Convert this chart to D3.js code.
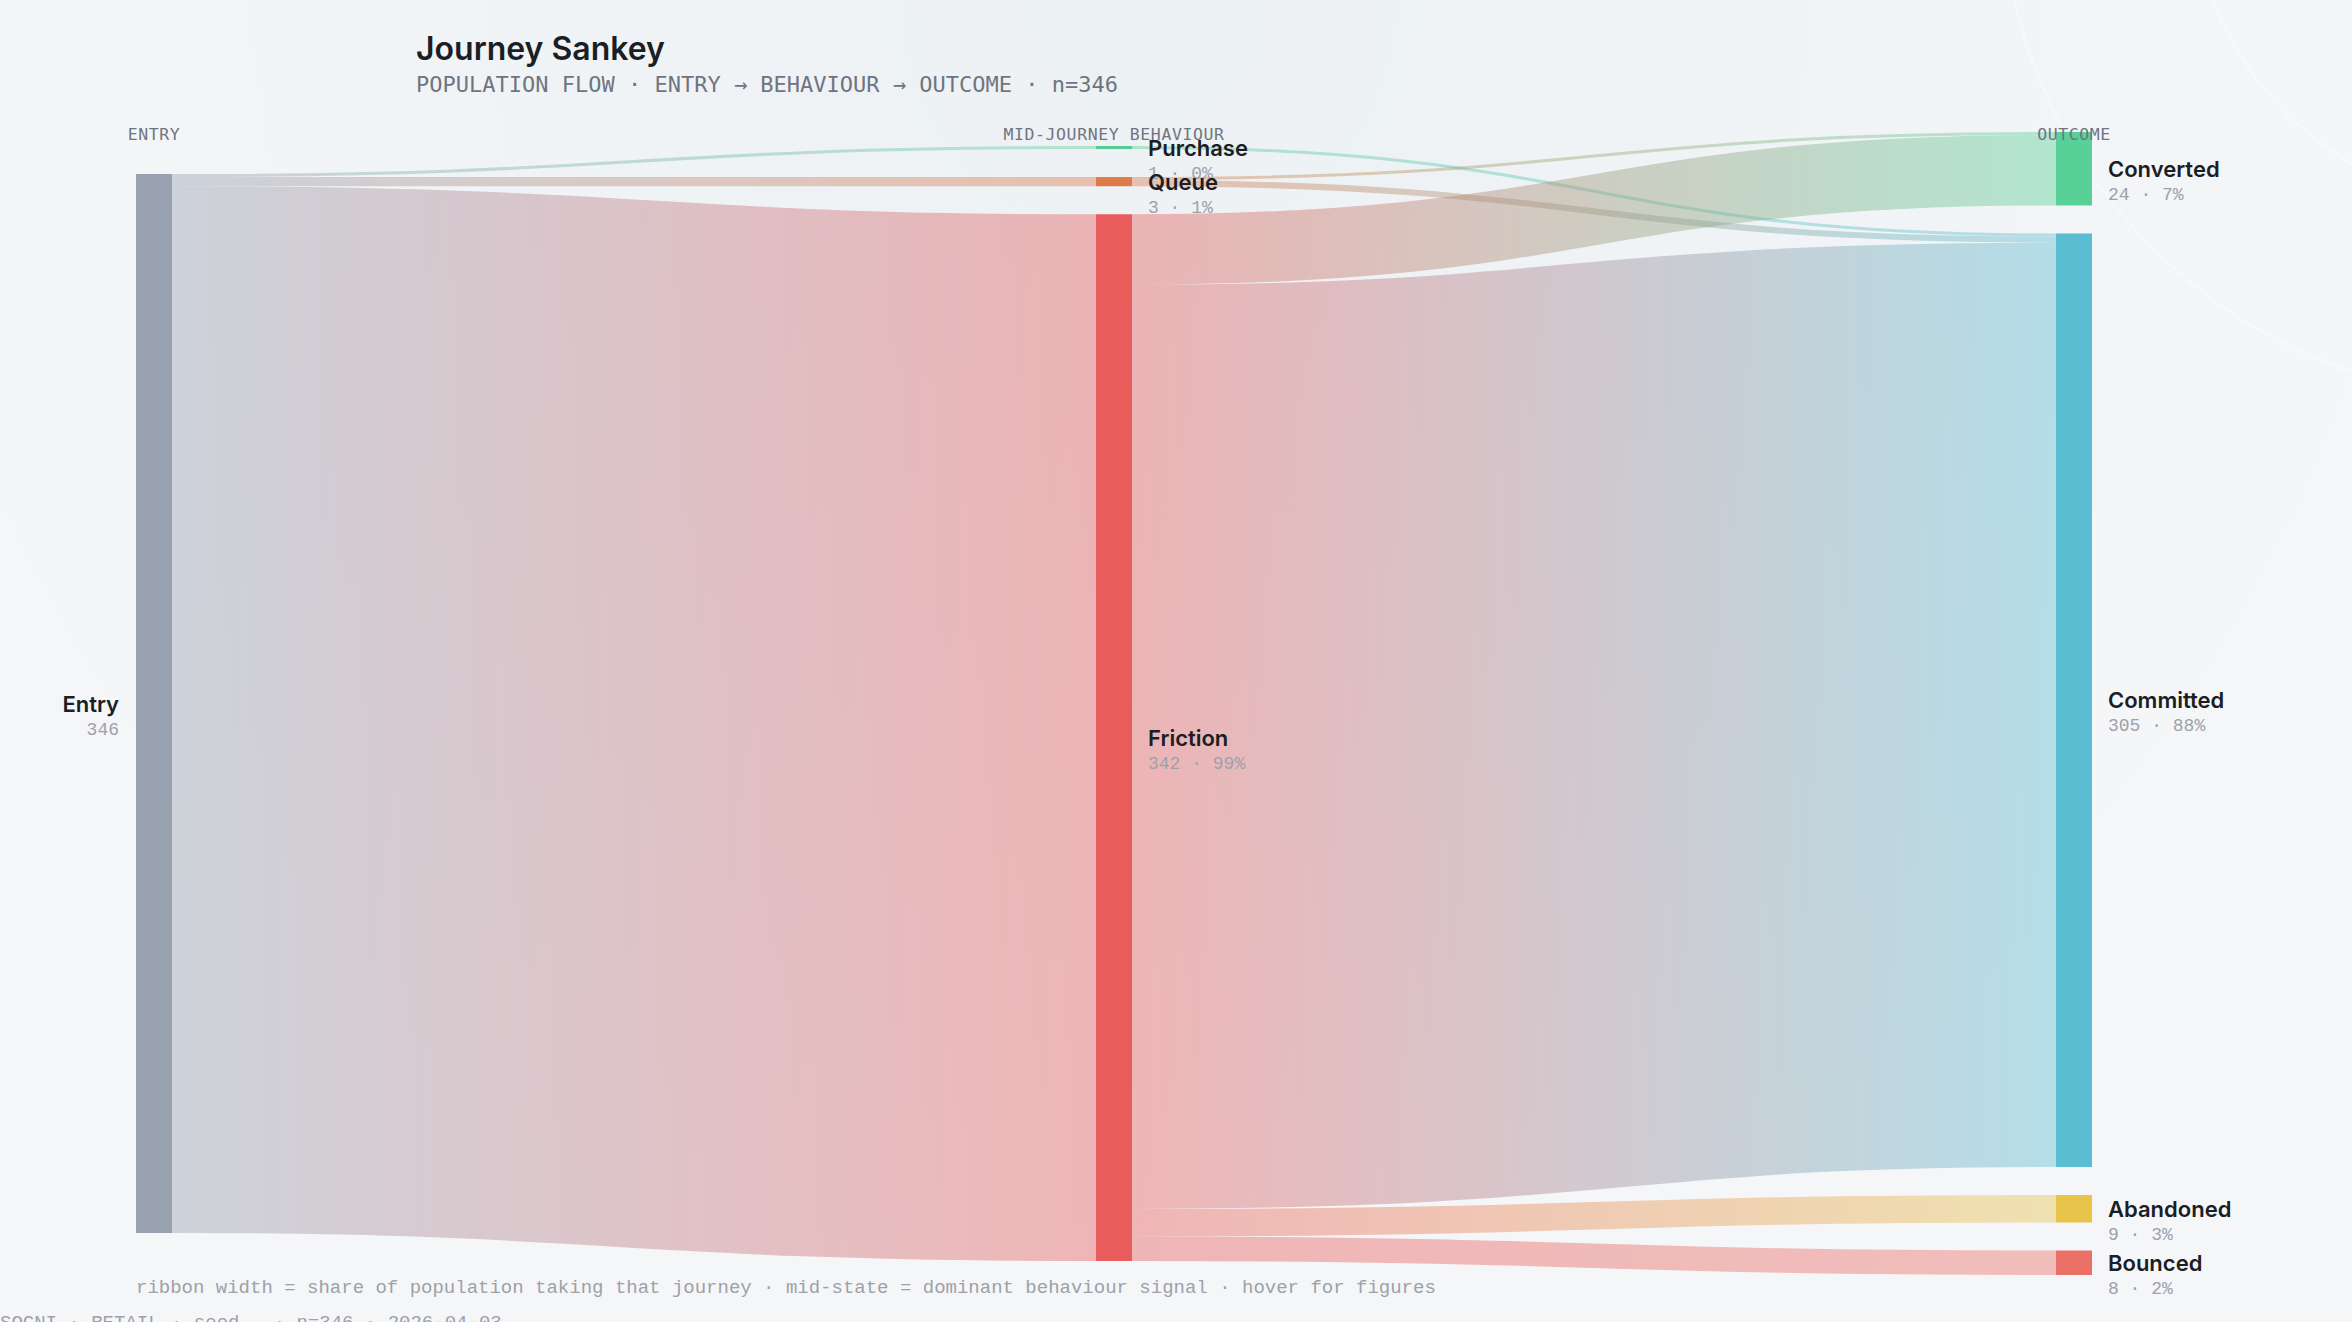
<!doctype html>
<html>
  <head>
    <meta charset="utf-8">
    <title>Journey Sankey</title>
    <script src="https://cdnjs.cloudflare.com/ajax/libs/d3/7.8.5/d3.min.js"></script>
    <style>
      html, body { margin: 0; padding: 0; background: #f4f6f8; overflow: hidden; }
      .name { font-family: Inter, "Noto Sans", sans-serif; font-weight: 600; font-size: 22px; fill: #1b1e24; }
      .sub { font-family: "Liberation Mono", "DejaVu Sans Mono", monospace; font-size: 18px; fill: #9ca1aa; }
      .head { font-family: "DejaVu Sans Mono", monospace; font-size: 16.5px; fill: #6f7580; letter-spacing: 0.6px; }
    </style>
  </head>
  <body>
    <div id="chart"></div>

    <script>

      // data: nodes, flows, headers
      const nodeNames = ["Entry", "Purchase", "Queue", "Friction", "Converted", "Committed", "Abandoned", "Bounced"];
      const linkSources = ["Entry", "Entry", "Entry", "Purchase", "Queue", "Queue", "Friction", "Friction", "Friction", "Friction"];
      const linkTargets = ["Purchase", "Queue", "Friction", "Committed", "Converted", "Committed", "Converted", "Committed", "Abandoned", "Bounced"];
      const linkValues = [1, 3, 342, 1, 1, 2, 23, 302, 9, 8];
      const columnHeaders = ["ENTRY", "MID-JOURNEY BEHAVIOUR", "OUTCOME"];
      const total = 346;

      // colours
      const palette = {
        Entry: "#97a1b0", Purchase: "#58cd93", Queue: "#df7a49", Friction: "#e85c5c",
        Converted: "#57d197", Committed: "#5bbdd2", Abandoned: "#e8c44a", Bounced: "#eb7068"
      };

      const W = 2352, H = 1322;
      const nodeWidth = 36, py = 28;
      const ext = {x0: 136, x1: 2092, y0: 132, y1: 1275};

      // build graph
      const nodes = nodeNames.map((name, i) => ({name, index: i, sourceLinks: [], targetLinks: []}));
      const byName = new Map(nodes.map(n => [n.name, n]));
      const links = linkValues.map((value, i) => ({
        index: i, value,
        source: byName.get(linkSources[i]),
        target: byName.get(linkTargets[i])
      }));
      links.forEach(l => { l.source.sourceLinks.push(l); l.target.targetLinks.push(l); });
      nodes.forEach(n => {
        n.value = Math.max(d3.sum(n.sourceLinks, l => l.value), d3.sum(n.targetLinks, l => l.value));
      });

      // depth (justify: sinks go to the last column)
      let current = new Set(nodes.filter(n => !n.targetLinks.length)), depth = 0;
      while (current.size) {
        const next = new Set();
        current.forEach(n => { n.depth = depth; n.sourceLinks.forEach(l => next.add(l.target)); });
        current = next; depth++;
      }
      const nCols = d3.max(nodes, n => n.depth) + 1;
      nodes.forEach(n => { n.layer = n.sourceLinks.length ? n.depth : nCols - 1; });

      const xCol = d3.scaleLinear().domain([0, nCols - 1]).range([ext.x0, ext.x1 - nodeWidth]);
      nodes.forEach(n => { n.x0 = xCol(n.layer); n.x1 = n.x0 + nodeWidth; });

      const columns = d3.range(nCols).map(() => []);
      nodes.forEach(n => columns[n.layer].push(n));

      const kyVal = d3.min(columns, c => (ext.y1 - ext.y0 - (c.length - 1) * py) / d3.sum(c, n => n.value));
      const yLen = d3.scaleLinear().domain([0, 1]).range([0, kyVal]);

      // stack each column, then centre it in the vertical extent
      columns.forEach(col => {
        let y = ext.y0;
        col.forEach(n => {
          n.y0 = y; n.y1 = y + yLen(n.value); y = n.y1 + py;
          n.sourceLinks.forEach(l => { l.width = yLen(l.value); });
        });
        const shift = (ext.y1 - (y - py)) / 2;
        col.forEach(n => { n.y0 += shift; n.y1 += shift; });
      });

      // link order follows the node on the other end
      const byY = (a, b) => a.y0 - b.y0;
      nodes.forEach(n => {
        n.sourceLinks.sort((a, b) => byY(a.target, b.target) || a.index - b.index);
        n.targetLinks.sort((a, b) => byY(a.source, b.source) || a.index - b.index);
      });
      nodes.forEach(n => {
        let a = n.y0, b = n.y0;
        n.sourceLinks.forEach(l => { l.y0 = a + l.width / 2; a += l.width; });
        n.targetLinks.forEach(l => { l.y1 = b + l.width / 2; b += l.width; });
      });

      // svg
      const svg = d3.select("#chart")
        .append("svg")
        .attr("width", W)
        .attr("height", H);

      const defs = svg.append("defs");
      const bg = defs.append("radialGradient")
        .attr("id", "bg")
        .attr("gradientUnits", "userSpaceOnUse")
        .attr("cx", 1150).attr("cy", 0).attr("r", 1300);
      bg.append("stop").attr("offset", "0%").attr("stop-color", "#ecf1f4");
      bg.append("stop").attr("offset", "100%").attr("stop-color", "#f5f6f8");

      svg.append("rect")
        .attr("width", W)
        .attr("height", H)
        .attr("fill", "url(#bg)");

      // faint decorative rings, top right corner
      svg.append("g")
        .selectAll("circle")
        .data([330, 520])
        .join("circle")
        .attr("cx", 2520)
        .attr("cy", -120)
        .attr("r", d => d)
        .attr("fill", "none")
        .attr("stroke", "#ffffff")
        .attr("stroke-opacity", 0.3)
        .attr("stroke-width", 3);

      const grads = defs.selectAll("linearGradient.lg")
        .data(links)
        .join("linearGradient")
        .attr("class", "lg")
        .attr("id", d => "lg" + d.index)
        .attr("gradientUnits", "userSpaceOnUse")
        .attr("x1", d => d.source.x1)
        .attr("x2", d => d.target.x0);
      grads.append("stop").attr("offset", "0%").attr("stop-color", d => palette[d.source.name]);
      grads.append("stop").attr("offset", "100%").attr("stop-color", d => palette[d.target.name]);

      const linkPath = d3.linkHorizontal()
        .source(d => [d.source.x1, d.y0])
        .target(d => [d.target.x0, d.y1]);

      svg.append("g")
        .attr("fill", "none")
        .selectAll("path")
        .data(links)
        .join("path")
        .attr("d", linkPath)
        .attr("stroke", d => "url(#lg" + d.index + ")")
        .attr("stroke-opacity", 0.42)
        .attr("stroke-width", d => Math.max(1, d.width));

      svg.append("g")
        .selectAll("rect")
        .data(nodes)
        .join("rect")
        .attr("x", d => d.x0)
        .attr("y", d => d.y0)
        .attr("width", d => d.x1 - d.x0)
        .attr("height", d => Math.max(1, d.y1 - d.y0))
        .attr("fill", d => palette[d.name]);

      // node labels
      const lab = svg.append("g")
        .selectAll("g")
        .data(nodes)
        .join("g")
        .attr("transform", d => {
          const cy = (d.y0 + d.y1) / 2;
          return d.layer === 0 ? `translate(${d.x0 - 17},${cy})` : `translate(${d.x1 + 16},${cy})`;
        })
        .attr("text-anchor", d => d.layer === 0 ? "end" : "start");

      lab.append("text")
        .attr("class", "name")
        .attr("y", 8)
        .text(d => d.name);

      lab.append("text")
        .attr("class", "sub")
        .attr("y", 31)
        .text(d => d.layer === 0 ? d.value : `${d.value} · ${Math.round(d.value / total * 100)}%`);

      // column headers
      svg.append("g")
        .selectAll("text")
        .data(columnHeaders)
        .join("text")
        .attr("class", "head")
        .attr("x", (d, i) => xCol(i) + nodeWidth / 2)
        .attr("y", 140)
        .attr("text-anchor", "middle")
        .text(d => d);

      // title block
      svg.append("text")
        .attr("x", 416)
        .attr("y", 60)
        .style("font-family", "Inter, 'Noto Sans', sans-serif")
        .style("font-weight", 600)
        .style("font-size", "32px")
        .style("fill", "#1b1e24")
        .text("Journey Sankey");

      svg.append("text")
        .attr("x", 416)
        .attr("y", 92)
        .style("font-family", "'DejaVu Sans Mono', monospace")
        .style("font-size", "22px")
        .style("fill", "#6f7580")
        .text("POPULATION FLOW · ENTRY → BEHAVIOUR → OUTCOME · n=" + total);

      // footnotes
      svg.append("text")
        .attr("x", 136)
        .attr("y", 1293)
        .style("font-family", "'Liberation Mono', monospace")
        .style("font-size", "19px")
        .style("fill", "#9ca1aa")
        .text("ribbon width = share of population taking that journey · mid-state = dominant behaviour signal · hover for figures");

      svg.append("text")
        .attr("x", 0)
        .attr("y", 1328)
        .style("font-family", "'Liberation Mono', monospace")
        .style("font-size", "19px")
        .style("fill", "#9ca1aa")
        .text("SOCNI · RETAIL · seed — · n=" + total + " · 2026-04-03");

    </script>
  </body>
</html>
